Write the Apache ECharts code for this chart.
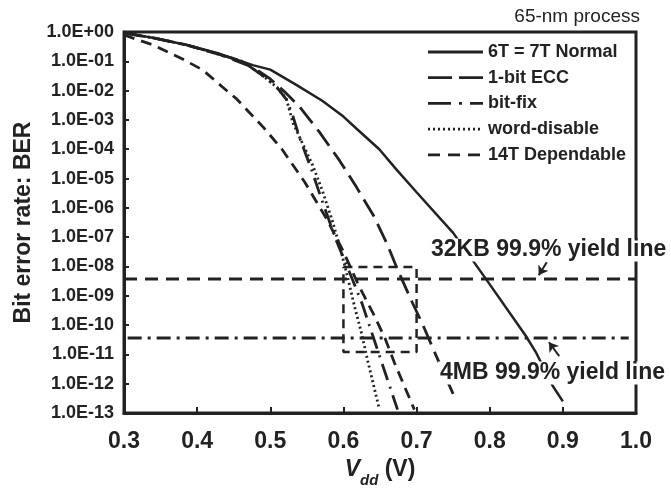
<!DOCTYPE html>
<html>
<head>
<meta charset="utf-8">
<title>Bit error rate vs Vdd</title>
<style>
  html, body { margin: 0; padding: 0; background: #fff; }
  #main { width: 671px; height: 488px; }
</style>
</head>
<body>
<div id="main"></div>
<script src="https://cdn.jsdelivr.net/npm/echarts@6/dist/echarts.min.js"></script>
<script>
    // curve data (Vdd in V, BER)
    var seriesNames = ['6T = 7T Normal', '1-bit ECC', 'bit-fix', 'word-disable', '14T Dependable'];

    var vddNormal = [0.30, 0.34, 0.386, 0.431, 0.476, 0.50, 0.535, 0.571, 0.60, 0.618, 0.649, 0.672, 0.70, 0.75, 0.795, 0.849, 0.863, 0.886, 0.90];
    var berNormal = [0.95, 0.63, 0.36, 0.18, 0.074, 0.052, 0.016, 4.5e-3, 1.3e-3, 5.0e-4, 1.0e-4, 2.1e-5, 3.4e-6, 1.4e-7, 3.7e-9, 4.4e-11, 1.2e-11, 8.5e-13, 2.5e-13];

    var vddEcc = [0.30, 0.34, 0.386, 0.431, 0.476, 0.50, 0.52, 0.54, 0.567, 0.595, 0.618, 0.642, 0.66, 0.674, 0.694, 0.708, 0.727, 0.75];
    var berEcc = [0.93, 0.63, 0.36, 0.17, 0.063, 0.025, 8.9e-3, 2.8e-3, 3.9e-4, 4.0e-5, 5.0e-6, 5.0e-7, 5.6e-8, 7.9e-9, 6.0e-10, 1.1e-10, 8.7e-12, 4.5e-13];

    var vddBitfix = [0.30, 0.34, 0.386, 0.431, 0.462, 0.49, 0.509, 0.522, 0.53, 0.54, 0.555, 0.57, 0.59, 0.61, 0.626, 0.65, 0.674];
    var berBitfix = [0.93, 0.63, 0.36, 0.17, 0.10, 0.032, 0.013, 5.0e-3, 1.6e-3, 2.5e-4, 2.5e-5, 2.0e-6, 7.9e-8, 5.0e-9, 5.0e-10, 7.9e-12, 1.3e-13];

    var vddWord = [0.30, 0.34, 0.386, 0.431, 0.462, 0.49, 0.509, 0.522, 0.531, 0.544, 0.558, 0.571, 0.585, 0.597, 0.606, 0.615, 0.625, 0.633, 0.649];
    var berWord = [0.93, 0.63, 0.36, 0.17, 0.10, 0.032, 0.013, 5.2e-3, 7.9e-4, 1.6e-4, 2.8e-5, 4.0e-6, 3.5e-7, 3.2e-8, 4.0e-9, 4.5e-10, 5.0e-11, 6.3e-12, 1.4e-13];

    var vdd14T = [0.30, 0.34, 0.38, 0.408, 0.435, 0.454, 0.49, 0.516, 0.547, 0.577, 0.60, 0.62, 0.641, 0.657, 0.67, 0.697];
    var ber14T = [0.79, 0.36, 0.12, 0.05, 0.013, 5.2e-3, 5.8e-4, 1.0e-4, 7.6e-6, 4.2e-7, 3.2e-8, 2.5e-9, 2.4e-10, 3.5e-11, 5.0e-12, 1.3e-13];

    // yield lines, highlight box and arrows
    var yield32KBX = [0.3, 1.0];
    var yield32KB = 3.7e-9;
    var yield4MBX = [0.305, 0.99];
    var yield4MB = 3.6e-11;
    var boxX = [0.6, 0.7, 0.7, 0.6, 0.6];
    var boxY = [9.5e-9, 9.5e-9, 1.2e-11, 1.2e-11, 9.5e-9];
    var arrow32KB = [[0.878, 1.4e-8], [0.867, 5.0e-9]];
    var arrow4MB = [[0.895, 8.7e-12], [0.881, 2.6e-11]];

    var ink = '#222';
    var font = 'Liberation Sans, Arial, sans-serif';

    // dash patterns: plot lines, then the bigger ones drawn in the key
    var dashes = ['solid', [20, 8], [17, 7, 2, 7], [2, 3], [11, 7]];
    var keyDashes = [null, [24, 7], [23, 8, 3, 8], [2, 3], [12, 8]];

    function pairs(xs, ys) {
        return xs.map(function (x, i) { return [x, ys[i]]; });
    }
    function sciLabel(v) {
        var e = Math.round(Math.log10(v));
        var a = Math.abs(e);
        return '1.0E' + (e < 0 ? '-' : '+') + (a < 10 ? '0' : '') + a;
    }
    function curve(i, xs, ys) {
        return {
            name: seriesNames[i], type: 'line', data: pairs(xs, ys),
            showSymbol: false, symbol: 'none',
            lineStyle: {color: ink, width: i === 0 ? 2.5 : 2.8, type: dashes[i]},
            z: 3
        };
    }

    // hand drawn key (top right, inside the frame)
    var key = [];
    seriesNames.forEach(function (name, i) {
        var y = 52 + i * 25.7;
        key.push({type: 'line', shape: {x1: 428, y1: y, x2: 483, y2: y},
            style: {stroke: ink, lineWidth: 2.8, lineDash: keyDashes[i]}});
        key.push({type: 'text', x: 488, y: y,
            style: {text: name, fill: ink, font: 'bold 18px ' + font, verticalAlign: 'middle'}});
    });

    var option = {
        animation: false,
        backgroundColor: '#fff',
        grid: {left: 124, right: 35, top: 32, bottom: 75, containLabel: false, outerBoundsMode: 'none',
            show: true, borderColor: ink, borderWidth: 3, backgroundColor: 'transparent'},
        xAxis: {
            type: 'value', min: 0.3, max: 1.0, interval: 0.1,
            axisLine: {lineStyle: {color: ink, width: 3}},
            axisTick: {inside: true, length: 6, lineStyle: {color: ink, width: 2}},
            splitLine: {show: false},
            axisLabel: {
                color: ink, fontSize: 23, fontWeight: 'bold', fontFamily: font, margin: 17,
                formatter: function (v) { return v.toFixed(1); }
            },
            name: '{v|V}{s|dd}{n| (V)}',
            nameLocation: 'middle', nameGap: 44,
            nameTextStyle: {
                rich: {
                    v: {fontSize: 23, fontWeight: 'bold', fontStyle: 'italic', fontFamily: font, color: ink, lineHeight: 30, verticalAlign: 'top'},
                    s: {fontSize: 15, fontWeight: 'bold', fontStyle: 'italic', fontFamily: font, color: ink, lineHeight: 30, verticalAlign: 'bottom', padding: [8, 0, 0, 0]},
                    n: {fontSize: 23, fontWeight: 'bold', fontFamily: font, color: ink, lineHeight: 30, verticalAlign: 'top'}
                }
            }
        },
        yAxis: {
            type: 'log', logBase: 10, min: 1e-13, max: 1, interval: 1,
            axisLine: {lineStyle: {color: ink, width: 3}},
            axisTick: {inside: true, length: 5, lineStyle: {color: ink, width: 2}},
            minorTick: {show: false},
            splitLine: {show: false},
            axisLabel: {color: ink, fontSize: 18, fontWeight: 'bold', fontFamily: font, margin: 10, formatter: sciLabel},
            name: 'Bit error rate: BER',
            nameLocation: 'middle', nameGap: 84, nameRotate: 90,
            nameTextStyle: {color: ink, fontSize: 23, fontWeight: 'bold', fontFamily: font}
        },
        graphic: key.concat([
            {type: 'text', right: 31, top: 7, style: {text: '65-nm process', fill: ink, font: '19px ' + font}},
            {type: 'text', x: 429, y: 250, z: 100,
                style: {text: '32KB 99.9% yield line', fill: ink, font: 'bold 23px ' + font, verticalAlign: 'middle', backgroundColor: '#fff', padding: [0, 2]}},
            {type: 'text', x: 438, y: 373, z: 100,
                style: {text: '4MB 99.9% yield line', fill: ink, font: 'bold 23px ' + font, verticalAlign: 'middle', backgroundColor: '#fff', padding: [0, 2]}}
        ]),
        series: [
            curve(0, vddNormal, berNormal),
            curve(1, vddEcc, berEcc),
            curve(2, vddBitfix, berBitfix),
            curve(3, vddWord, berWord),
            curve(4, vdd14T, ber14T),
            {
                name: '32KB', type: 'line', symbol: 'none',
                data: pairs(yield32KBX, [yield32KB, yield32KB]),
                lineStyle: {color: ink, width: 3, type: [13, 8]},
                markLine: {
                    silent: true, symbol: ['none', 'arrow'], symbolSize: 9,
                    label: {show: false},
                    lineStyle: {color: ink, width: 2, type: 'solid'},
                    data: [[{coord: arrow32KB[0]}, {coord: arrow32KB[1]}]]
                }
            },
            {
                name: '4MB', type: 'line', symbol: 'none',
                data: pairs(yield4MBX, [yield4MB, yield4MB]),
                lineStyle: {color: ink, width: 3, type: [14, 6, 3, 6]},
                markLine: {
                    silent: true, symbol: ['none', 'arrow'], symbolSize: 9,
                    label: {show: false},
                    lineStyle: {color: ink, width: 2, type: 'solid'},
                    data: [[{coord: arrow4MB[0]}, {coord: arrow4MB[1]}]]
                }
            },
            {
                name: 'box', type: 'line', symbol: 'none',
                data: pairs(boxX, boxY),
                lineStyle: {color: ink, width: 2.5, type: [9, 6]}
            }
        ]
    };

    var chart = echarts.init(document.getElementById('main'));
    chart.setOption(option);
</script>
</body>
</html>
